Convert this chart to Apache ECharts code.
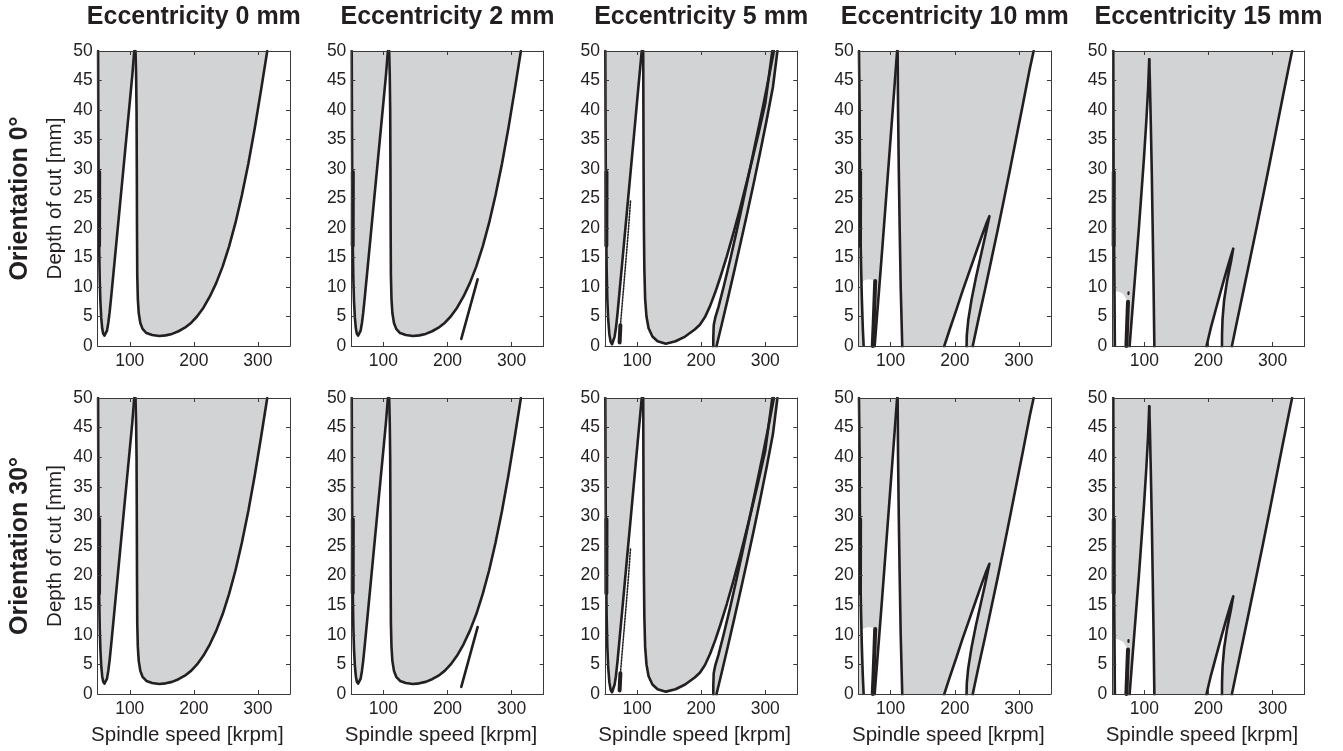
<!DOCTYPE html>
<html><head><meta charset="utf-8">
<script src="https://cdn.jsdelivr.net/npm/echarts@6/dist/echarts.min.js"></script>
<style>html,body{margin:0;padding:0;background:#fff}#c{width:1343px;height:751px}</style>
</head><body><div id="c"></div>
<script>
// ---------- texts & ticks ----------
const columnTitles = ['Eccentricity 0 mm','Eccentricity 2 mm','Eccentricity 5 mm','Eccentricity 10 mm','Eccentricity 15 mm'];
const rowTitles = ['Orientation 0°','Orientation 30°'];
const yName = 'Depth of cut [mm]';
const xName = 'Spindle speed [krpm]';
const xTickValues = [100,200,300];
const xRange = [50,350];
const yRange = [0,50];
const yStep = 5;

// ---------- curves [spindle speed krpm, depth mm] ----------
const bar0 = [[52.1,17],[52.3,29.5]];
const e0Lobe1 = [[50.6,50],[50.9,40],[51.3,30],[51.8,22],[52.4,16],[53.2,11],[54.2,7.5],[55.5,4.8],[57,3],[58.5,2.1],[60.5,1.75],[62.5,1.9],[64.5,2.6],[66.5,3.9],[68.5,5.6],[71,8.3],[75,12.8],[80,18.5],[85,24.2],[90,29.9],[95,35.6],[100,41.3],[104,45.9],[107,50]];
const e0Lobe2 = [[109,50],[109.9,46],[110.6,40],[111,30],[111.3,20],[111.7,12],[112.6,8],[114,5.6],[116.5,3.9],[120,2.9],[126,2.2],[135,1.85],[146,1.7],[156,1.8],[166,2.05],[176,2.5],[186,3.1],[196,3.95],[205,5],[215,6.5],[225,8.4],[235,10.7],[245,13.5],[255,16.9],[265,20.9],[275,25.6],[285,30.9],[295,36.9],[305,43.5],[314.5,50]];
const e2Segment = [[221.5,1.2],[247,11.3]];

const e5Lobe1 = [[50.5,50],[50.8,40],[51.2,30],[51.8,20],[52.6,13],[53.6,8],[55,4.5],[56.8,2],[58.8,0.7],[61,0.3],[63,0.6],[65,1.6],[67,3],[69.5,5.5],[73,9.6],[77,14.3],[81,19],[85,23.7],[89,28.4],[93,33.1],[97,37.8],[101,42.6],[104.5,46.7],[107.3,50]];
const e5Dotted = [[72.5,1.5],[76,6],[79.5,10.5],[83,15],[86.5,19.6],[89.8,24.6]];
const e5Stub = [[72.8,0.6],[74,3.5]];
const e5Lobe2 = [[109.6,50],[109.9,40],[110.2,30],[110.7,20],[111.4,13],[112.6,8],[114.7,5],[118,3],[124,1.6],[132,0.8],[145,0.4],[160,0.8],[175,1.6],[190,2.8],[198,3.6],[206,4.9],[214,6.8],[222,9.1],[230,11.7],[240,15.2],[250,19],[260,23],[270,27.3],[280,31.7],[290,36.3],[300,41.1],[311,50]];
const e5Lobe3 = [[313.5,50],[305,45.2],[295,39.8],[285,34.6],[275,29.4],[265,24.3],[255,19.3],[245,14.5],[235,10],[227,6.6],[222,4.8],[219.6,3.5],[219,1.5],[218.9,-1],[224,-1],[224,0],[232,3.6],[242,8.2],[252,12.9],[262,17.7],[272,22.6],[282,27.6],[292,32.8],[302,38.2],[312,43.9],[319,50]];

const e10Arm0 = [[50.5,50],[51.5,40],[52,29.5],[52.5,22],[53.5,15],[55,8],[56.5,3],[57.8,0]];
const e10Cluster = [[72,0],[73.5,4],[75,8.5],[75.8,11]];
const e10Pocket = [[57.8,0],[56.5,3],[55,8],[54.4,10.8],[60,11.2],[66,11.3],[72,11.2],[75.8,11],[75,8.5],[73.5,4],[72,0]];
const e10Lobe1R = [[75,-1],[75,0],[78,4.2],[81.5,9],[85.5,14.6],[90,21],[94.5,27.5],[99,34],[103.5,40.5],[107,45.6],[110,50]];
const e10Lobe2 = [[110.8,50],[111.5,40],[112.6,30],[114,20],[115.6,10],[116.8,5],[118,0],[119,-2],[182.6,-2],[183.6,0],[192,2.8],[202,6],[212,9.3],[222,12.4],[232,15.5],[242,18.6],[249,20.7],[254,22],[249,19.4],[241,15.5],[233,11.6],[226,7.8],[221,4.4],[218.7,1.8],[218,-2],[228,-2],[228,0],[237,4.6],[247,9.5],[257,14.6],[267,19.7],[277,25],[287,30.4],[297,35.9],[307,41.4],[317,47],[323,50]];

const e15Arm0 = [[51.5,50],[52,29.5],[52.5,20],[53,15],[53.5,8],[54,0]];
const e15Cluster = [[72,0],[73.3,4],[74.5,7.5]];
const e15Dot = [[75.2,8.8],[75.3,9.1]];
const e15Pocket = [[54,0],[53.5,8],[53.4,9.3],[60,9.2],[67,8.8],[74.5,7.5],[73.3,4],[72,0]];
const e15Lobe1R = [[77,-1],[77,0],[80,4.2],[83.5,9],[87.5,14.5],[91.5,20],[95.5,26],[99.5,32],[103,38],[105.8,43.5],[107.6,48.6]];
const e15Lobe2 = [[107.6,48.6],[108.6,45],[110,38],[111.5,30],[113,20],[114.4,10],[115.6,0],[116.6,-2],[196,-2],[197,0],[204,3.2],[212,6.4],[220,9.6],[228,12.7],[234,14.9],[238.7,16.5],[235,14.2],[229,11],[224.5,7.8],[222,4.6],[221.2,2],[221,-2],[236.6,-2],[236.6,0],[245,4.4],[255,9.6],[265,14.8],[275,20],[285,25.3],[295,30.7],[305,36.2],[315,41.7],[325,47.1],[330.5,50]];

// ---------- panels ----------
function panelFor(e){
  if (e===0) return {fills:[e0Lobe1,e0Lobe2], holes:[], lines:[e0Lobe1,e0Lobe2], dotted:[], bars:[bar0], dots:[]};
  if (e===1) return {fills:[e0Lobe1,e0Lobe2], holes:[], lines:[e0Lobe1,e0Lobe2,e2Segment], dotted:[], bars:[bar0], dots:[]};
  if (e===2) return {fills:[e5Lobe1,e5Lobe2,e5Lobe3], holes:[], lines:[e5Lobe1,e5Lobe2,e5Lobe3], dotted:[e5Dotted], bars:[bar0,e5Stub], dots:[]};
  if (e===3) return {fills:[[[50,50],[50,-1]].concat(e10Lobe1R), e10Lobe2], holes:[e10Pocket], lines:[e10Arm0,e10Lobe1R,e10Lobe2], dotted:[], bars:[bar0,e10Cluster], dots:[]};
  return {fills:[[[50,50],[50,-1]].concat(e15Lobe1R).concat(e15Lobe2)], holes:[e15Pocket], lines:[e15Arm0,e15Lobe1R,e15Lobe2], dotted:[], bars:[bar0,e15Cluster], dots:[e15Dot]};
}

// ---------- layout / styles ----------
const GRAY = '#d1d3d4', INK = '#231f20', AXC = '#3a3a3a';
const FONT = 'Liberation Sans, Arial, sans-serif';
const colLeft0 = 97.7, colStep = 253.65, gW = 192.3;
const rowTop = [51, 398], rowH = [295, 296];

const grids = [], xAxes = [], yAxes = [], series = [], graphics = [];
function lineSeries(gi, pts, w, type){
  return {type:'line', xAxisIndex: gi*2, yAxisIndex: gi*2, data: pts, showSymbol:false, symbol:'none', clip:true, silent:true, z:3,
    lineStyle:{color:INK, width:w, type:type || 'solid', join:'round', cap:'round'}};
}
function polySeries(gi, pts, fill, z){
  return {type:'custom', xAxisIndex: gi*2, yAxisIndex: gi*2, clip:true, silent:true, z:z,
    data:[[200,25]],
    renderItem:(params, api) => ({type:'polygon', shape:{points: pts.map(q => api.coord(q))}, style:{fill:fill, stroke:null}})};
}
for (let r = 0; r < 2; r++) {
  for (let c = 0; c < 5; c++) {
    const gi = grids.length;
    const left = colLeft0 + c*colStep;
    grids.push({left: left, top: rowTop[r], width: gW, height: rowH[r], containLabel:false});
    const tickStyle = {color: AXC, width: 1};
    xAxes.push({gridIndex: gi, type:'value', min:xRange[0], max:xRange[1], position:'bottom', z:10,
      axisLine:{show:true, onZero:false, lineStyle:{color:AXC, width:1}},
      axisTick:{show:true, inside:true, length:4, customValues:xTickValues, lineStyle:tickStyle},
      axisLabel:{show:true, customValues:xTickValues, fontSize:17.5, color:INK, fontFamily:FONT, margin:6},
      splitLine:{show:false}});
    xAxes.push({gridIndex: gi, type:'value', min:xRange[0], max:xRange[1], position:'top', z:10,
      axisLine:{show:true, onZero:false, lineStyle:{color:AXC, width:1}},
      axisTick:{show:true, inside:true, length:4, customValues:xTickValues, lineStyle:tickStyle},
      axisLabel:{show:false}, splitLine:{show:false}});
    yAxes.push({gridIndex: gi, type:'value', min:yRange[0], max:yRange[1], interval:yStep, position:'left', z:10,
      axisLine:{show:true, onZero:false, lineStyle:{color:AXC, width:1}},
      axisTick:{show:true, inside:true, length:4, lineStyle:tickStyle},
      axisLabel:{show:true, fontSize:17.5, color:INK, fontFamily:FONT, margin:5},
      splitLine:{show:false}});
    yAxes.push({gridIndex: gi, type:'value', min:yRange[0], max:yRange[1], interval:yStep, position:'right', z:10,
      axisLine:{show:true, onZero:false, lineStyle:{color:AXC, width:1}},
      axisTick:{show:true, inside:true, length:4, lineStyle:tickStyle},
      axisLabel:{show:false}, splitLine:{show:false}});
    const p = panelFor(c);
    p.fills.forEach(pts => series.push(polySeries(gi, pts, GRAY, 1)));
    p.holes.forEach(pts => series.push(polySeries(gi, pts, '#ffffff', 2)));
    p.lines.forEach(pts => series.push(lineSeries(gi, pts, 2.6)));
    p.dotted.forEach(pts => series.push(lineSeries(gi, pts, 1.6, [1.5,1.5])));
    p.bars.forEach(pts => series.push(lineSeries(gi, pts, 4)));
    p.dots.forEach(pts => series.push(lineSeries(gi, pts, 2.2)));
    if (r === 0) {
      graphics.push({type:'text', x: left + gW/2, y: 17, style:{text: columnTitles[c], fill: INK, font: 'bold 25px ' + FONT, textAlign:'center', textVerticalAlign:'middle', align:'center', verticalAlign:'middle'}});
    }
    if (r === 1) {
      graphics.push({type:'text', x: left + gW/2 - 6.5, y: 735, style:{text: xName, fill: INK, font: '20.5px ' + FONT, textAlign:'center', textVerticalAlign:'middle', align:'center', verticalAlign:'middle'}});
    }
    if (c === 0) {
      const cy = rowTop[r] + rowH[r]/2;
      graphics.push({type:'text', x: 20, y: cy, rotation: Math.PI/2, style:{text: rowTitles[r], fill: INK, font: 'bold 25px ' + FONT, textAlign:'center', textVerticalAlign:'middle', align:'center', verticalAlign:'middle'}});
      graphics.push({type:'text', x: 55, y: cy, rotation: Math.PI/2, style:{text: yName, fill: INK, font: '20.5px ' + FONT, textAlign:'center', textVerticalAlign:'middle', align:'center', verticalAlign:'middle'}});
    }
  }
}

const chart = echarts.init(document.getElementById('c'), null, {renderer:'canvas'});
chart.setOption({animation:false, backgroundColor:'#fff', grid:grids, xAxis:xAxes, yAxis:yAxes, series:series, graphic:graphics});
</script></body></html>
